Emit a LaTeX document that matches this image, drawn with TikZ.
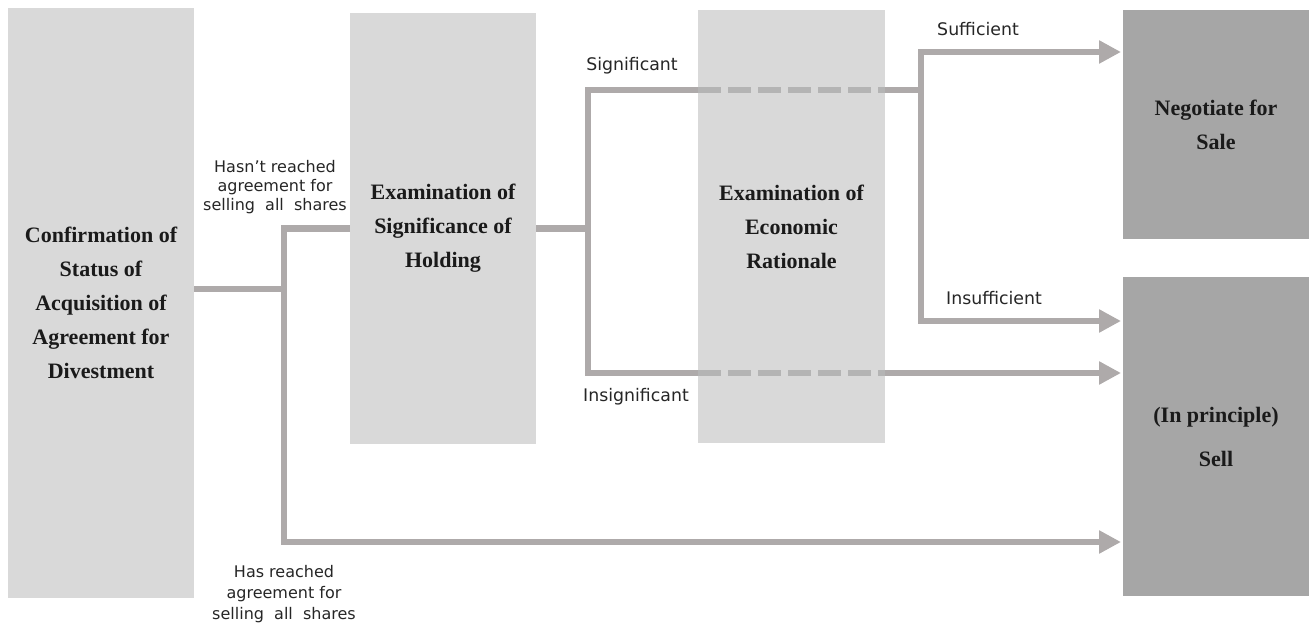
\documentclass[tikz,border=0pt]{standalone}
\usepackage{fontspec}
\setmainfont{Liberation Serif}
\newfontfamily\labelfont{DejaVu Sans}
\usetikzlibrary{arrows.meta}
\definecolor{boxlight}{HTML}{D9D9D9}
\definecolor{boxdark}{HTML}{A6A6A6}
\definecolor{conncol}{HTML}{AEAAAA}
\definecolor{dashcol}{HTML}{B4B4B4}
\definecolor{txt}{HTML}{1A1A1A}
\definecolor{lbltxt}{HTML}{262626}
\begin{document}
\begin{tikzpicture}[x=0.75pt,y=-0.75pt,
  boxbase/.style={inner sep=0pt, outer sep=0pt, align=center, text=txt,
    font=\fontsize{16.5}{25.5}\selectfont\bfseries},
  lightbox/.style={boxbase, fill=boxlight},
  darkbox/.style={boxbase, fill=boxdark},
  conn/.style={draw=conncol, line width=5pt},
  dashconn/.style={draw=dashcol, line width=5pt, dash pattern=on 17.5pt off 5pt},
  arrowtip/.style={-{Triangle[length=16.5pt,width=16.5pt]}, shorten >=1.5pt},
  lbl/.style={font=\labelfont\fontsize{13}{15}\selectfont, text=lbltxt, inner sep=0pt, align=center},
  smlbl/.style={font=\labelfont\fontsize{12}{14}\selectfont, text=lbltxt, inner sep=0pt, align=center}
]
\useasboundingbox (0,0) rectangle (1309,623);

% boxes
\node[lightbox, minimum width=139.5pt, minimum height=442.5pt] (c1) at (101,303)
  {Confirmation of\\Status of\\Acquisition of\\Agreement for\\Divestment};
\node[lightbox, minimum width=139.5pt, minimum height=323.25pt] (e1) at (443,228.5)
  {Examination of\\Significance of\\Holding};
\node[lightbox, minimum width=140.25pt, minimum height=324.75pt] (e2) at (791.5,226.5)
  {Examination of\\Economic\\Rationale};
\node[darkbox, minimum width=139.5pt, minimum height=171.75pt] (neg) at (1216,124.5)
  {Negotiate for\\Sale};
\node[darkbox, minimum width=139.5pt, minimum height=239.25pt] (sell) at (1216,436.5)
  {(In principle)\\[7.5pt]Sell};

% junction coordinates
\coordinate (j1) at (284,289);
\coordinate (t1) at (284,228.5);
\coordinate (b1) at (284,542);
\coordinate (j2) at (588,228.5);
\coordinate (sg) at (588,90);
\coordinate (is) at (588,373);
\coordinate (k1) at (921,90);
\coordinate (sf) at (921,52);
\coordinate (isf) at (921,321);

% connectors
\draw[conn] (c1.east |- j1) -- (j1);
\draw[conn, arrowtip] (e1.west) -- (t1) -- (b1) -- (sell.west |- b1);
\draw[conn] (e1.east) -- (j2);
\draw[conn] (e2.west |- sg) -- (sg) -- (is) -- (e2.west |- is);
\draw[dashconn] (e2.west |- sg) -- (e2.east |- sg);
\draw[dashconn] (e2.west |- is) -- (e2.east |- is);
\draw[conn] (e2.east |- sg) -- (k1);
\draw[conn, {Triangle[length=16.5pt,width=16.5pt]}-{Triangle[length=16.5pt,width=16.5pt]}, shorten <=1.5pt, shorten >=1.5pt]
  (neg.west |- sf) -- (sf) -- (isf) -- (sell.west |- isf);
\draw[conn, arrowtip] (e2.east |- is) -- (sell.west |- is);

% labels
\node[smlbl] (lhasnt) at (275,187) {Hasn’t reached\\agreement for\\selling~ all~ shares};
\node[smlbl, font=\labelfont\fontsize{12}{16}\selectfont] (lhas) at (284,594) {Has reached\\agreement for\\selling~ all~ shares};
\node[lbl] (lsig) at (632,66) {Significant};
\node[lbl] (linsig) at (636,397) {Insignificant};
\node[lbl] (lsuf) at (978,29) {Sufficient};
\node[lbl] (linsuf) at (994,298) {Insufficient};
\end{tikzpicture}
\end{document}
